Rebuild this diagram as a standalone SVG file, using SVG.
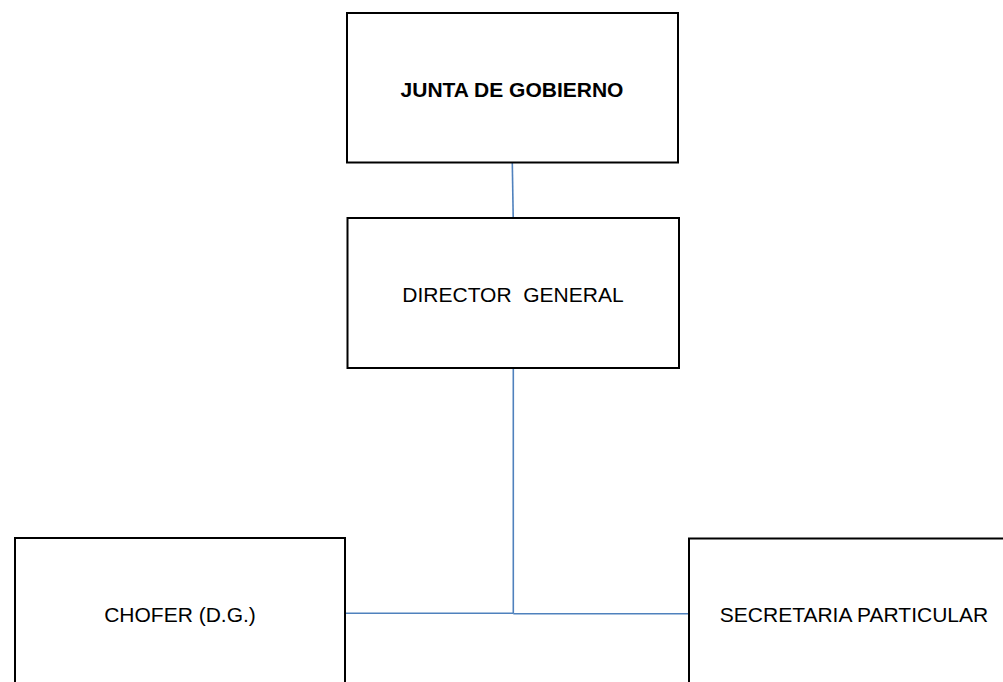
<svg xmlns="http://www.w3.org/2000/svg" width="1003" height="682" viewBox="0 0 1003 682">
<style>
.box{fill:#fff;stroke:#000;stroke-width:2}
.lbl{font-family:"Liberation Sans",Arial,sans-serif;font-size:21px;fill:#000;text-anchor:middle}
.b{font-weight:bold}
.con{fill:none;stroke:#4F81BD;stroke-width:1.6}
</style>
<rect width="1003" height="682" fill="#fff"/>
<g id="connectors">
<line class="con" x1="512.3" y1="163" x2="513.2" y2="217"/>
<line class="con" x1="513.3" y1="368" x2="513.3" y2="613.5"/>
<line class="con" x1="345" y1="613.3" x2="513.3" y2="613.3"/>
<line class="con" x1="513.3" y1="613.7" x2="688" y2="613.7"/>
</g>
<g id="junta">
<rect class="box" x="347" y="13" width="331" height="149.5"/>
<text class="lbl b" x="512" y="96.5">JUNTA DE GOBIERNO</text>
</g>
<g id="director">
<rect class="box" x="347.5" y="218" width="331.5" height="150"/>
<text class="lbl" x="513" y="301.5" xml:space="preserve">DIRECTOR  GENERAL</text>
</g>
<g id="chofer">
<rect class="box" x="15" y="538" width="330" height="160"/>
<text class="lbl" x="180" y="621.5">CHOFER (D.G.)</text>
</g>
<g id="secretaria">
<rect class="box" x="689" y="538.5" width="331" height="160"/>
<text class="lbl" x="854" y="621.5">SECRETARIA PARTICULAR</text>
</g>
</svg>
